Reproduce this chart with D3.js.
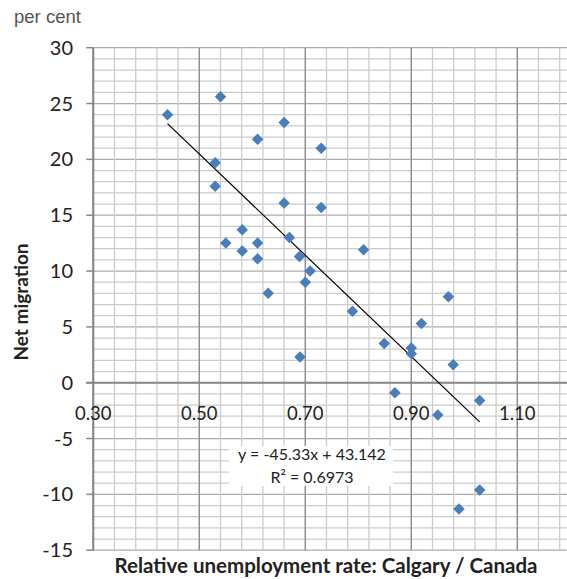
<!DOCTYPE html>
<html>
<head>
<meta charset="utf-8">
<script src="https://cdn.jsdelivr.net/npm/d3@7"></script>
<style>
  html, body { margin: 0; padding: 0; background: #fff; }
  svg { display: block; }
</style>
</head>
<body>
<svg width="567" height="579"></svg>
<script>
// relative unemployment rate (Calgary / Canada)
const relUnemp = [0.540, 0.440, 0.660, 0.610, 0.730, 0.530, 0.530, 0.660, 0.730, 0.581,
    0.550, 0.610, 0.670, 0.581, 0.610, 0.689, 0.709, 0.810, 0.700, 0.630,
    0.970, 0.789, 0.919, 0.849, 0.900, 0.900, 0.690, 0.979, 1.029, 0.950,
    1.029, 0.990, 0.869];
// net migration, per cent
const netMigration = [25.6, 24.0, 23.3, 21.8, 21.0, 19.7, 17.6, 16.1, 15.7, 13.7,
    12.5, 12.5, 13.0, 11.8, 11.1, 11.3, 10.0, 11.9, 9.0, 8.0,
    7.7, 6.4, 5.3, 3.5, 3.1, 2.6, 2.3, 1.6, -1.6, -2.9,
    -9.6, -11.3, -0.9];

const trendSlope = -45.33;
const trendIntercept = 43.142;
const rSquared = "0.6973";

const xTickValues = [0.30, 0.50, 0.70, 0.90, 1.10];
const xTickLabels = ["0.30", "0.50", "0.70", "0.90", "1.10"];
const yTickValues = [30, 25, 20, 15, 10, 5, 0, -5, -10, -15];

const svg = d3.select("svg");

const x = d3.scaleLinear().domain([0.30, 1.20]).range([93.3, 570.3]);
const y = d3.scaleLinear().domain([-15, 30]).range([550.2, 47.7]);

const grid = svg.append("g");

// minor gridlines
const xMinor = d3.range(0, 23).map(i => 0.30 + i * 0.04);
const yMinor = d3.range(-15, 31);

grid.selectAll("line.hminor")
    .data(yMinor)
    .join("line")
    .attr("x1", x(0.30)).attr("x2", 567)
    .attr("y1", d => y(d)).attr("y2", d => y(d))
    .attr("stroke", d => d % 5 === 0 ? "#ababab" : "#cccccc")
    .attr("stroke-width", 1.3);

grid.selectAll("line.vminor")
    .data(xMinor)
    .join("line")
    .attr("x1", d => x(d)).attr("x2", d => x(d))
    .attr("y1", y(30)).attr("y2", y(-15))
    .attr("stroke", "#cccccc")
    .attr("stroke-width", 1.3);

grid.selectAll("line.vmajor")
    .data(xTickValues)
    .join("line")
    .attr("x1", d => x(d)).attr("x2", d => x(d))
    .attr("y1", y(30)).attr("y2", y(-15))
    .attr("stroke", "#8c8c8c")
    .attr("stroke-width", 1.3);

// y axis line + ticks
svg.append("line")
    .attr("x1", x(0.30)).attr("x2", x(0.30))
    .attr("y1", y(30)).attr("y2", y(-15))
    .attr("stroke", "#868686").attr("stroke-width", 2);

svg.append("g").selectAll("line")
    .data(yTickValues)
    .join("line")
    .attr("x1", x(0.30) - 7).attr("x2", x(0.30))
    .attr("y1", d => y(d)).attr("y2", d => y(d))
    .attr("stroke", "#868686").attr("stroke-width", 1.5);

// x axis at y = 0
svg.append("line")
    .attr("x1", x(0.30) - 7).attr("x2", 567)
    .attr("y1", y(0)).attr("y2", y(0))
    .attr("stroke", "#868686").attr("stroke-width", 2);

// tick labels
svg.append("g").selectAll("text")
    .data(yTickValues)
    .join("text")
    .attr("x", 73)
    .attr("y", d => y(d) + 7)
    .attr("text-anchor", "end")
    .attr("font-family", "Lato, sans-serif")
    .attr("font-size", "20px")
    .attr("fill", "#222")
    .text(d => d);

svg.append("g").selectAll("text")
    .data(xTickValues)
    .join("text")
    .attr("x", d => x(d))
    .attr("y", y(0) + 37)
    .attr("text-anchor", "middle")
    .attr("font-family", "Lato, sans-serif")
    .attr("font-size", "18.5px")
    .attr("fill", "#222")
    .text((d, i) => xTickLabels[i]);

// trendline
const xExt = d3.extent(relUnemp);
svg.append("line")
    .attr("x1", x(xExt[0])).attr("y1", y(trendSlope * xExt[0] + trendIntercept))
    .attr("x2", x(xExt[1])).attr("y2", y(trendSlope * xExt[1] + trendIntercept))
    .attr("stroke", "#000").attr("stroke-width", 1.2);

// points
const diamond = d3.symbol(d3.symbolSquare).size(66);
svg.append("g").selectAll("path")
    .data(relUnemp.map((d, i) => [d, netMigration[i]]))
    .join("path")
    .attr("d", diamond)
    .attr("transform", d => `translate(${x(d[0])},${y(d[1])}) rotate(45)`)
    .attr("fill", "#4a7ebb");

// equation label
const eq = svg.append("g");
eq.append("rect")
    .attr("x", 229).attr("y", 446)
    .attr("width", 164).attr("height", 40)
    .attr("fill", "#fff");
eq.append("text")
    .attr("x", 312).attr("y", 460)
    .attr("text-anchor", "middle")
    .attr("font-family", "Lato, sans-serif")
    .attr("font-size", "16px")
    .attr("fill", "#222")
    .text(`y = ${trendSlope}x + ${trendIntercept}`);
eq.append("text")
    .attr("x", 312).attr("y", 483)
    .attr("text-anchor", "middle")
    .attr("font-family", "Lato, sans-serif")
    .attr("font-size", "16px")
    .attr("fill", "#222")
    .text(`R² = ${rSquared}`);

// axis titles
svg.append("text")
    .attr("x", 14).attr("y", 23)
    .attr("font-family", "Liberation Sans, Arial, sans-serif")
    .attr("font-size", "18.5px")
    .attr("fill", "#555")
    .text("per cent");

svg.append("text")
    .attr("transform", "translate(28,302) rotate(-90)")
    .attr("text-anchor", "middle")
    .attr("font-family", "Lato, sans-serif")
    .attr("font-weight", "bold")
    .attr("font-size", "19px")
    .attr("fill", "#222")
    .text("Net migration");

svg.append("text")
    .attr("x", 326).attr("y", 573)
    .attr("text-anchor", "middle")
    .attr("font-family", "Lato, sans-serif")
    .attr("font-weight", "bold")
    .attr("font-size", "20.5px")
    .attr("fill", "#222")
    .text("Relative unemployment rate: Calgary / Canada");
</script>
</body>
</html>
